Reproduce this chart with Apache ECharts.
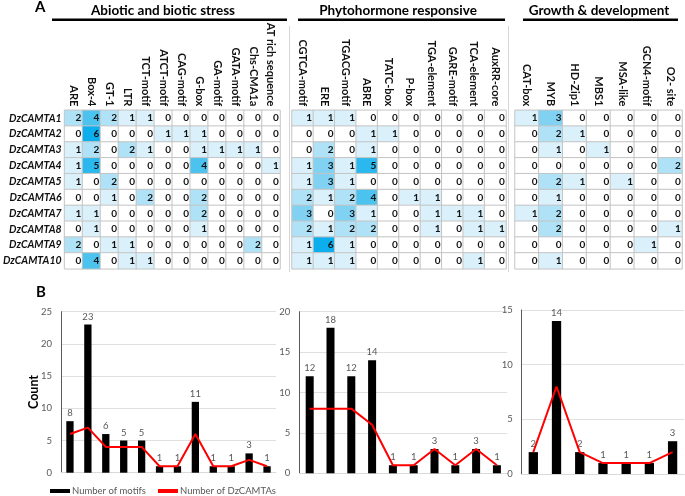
<!DOCTYPE html>
<html>
<head>
<meta charset="utf-8">
<script src="https://cdn.jsdelivr.net/npm/echarts@6/dist/echarts.min.js"></script>
<style>html,body{margin:0;padding:0;background:#fff}#c{width:685px;height:496px}</style>
</head>
<body>
<div id="c"></div>
<script>
const genes = ['DzCAMTA1','DzCAMTA2','DzCAMTA3','DzCAMTA4','DzCAMTA5','DzCAMTA6','DzCAMTA7','DzCAMTA8','DzCAMTA9','DzCAMTA10'];

const abioticMotifs = ['ARE','Box-4','GT-1','LTR','TCT-motif','ATCT-motif','CAG-motif','G-box','GA-motif','GATA-motif','Chs-CMA1a','AT rich sequence'];
const abioticCounts = [
  [2,4,2,1,1,0,0,0,0,0,0,0],
  [0,6,0,0,0,1,1,1,0,0,0,0],
  [1,2,0,2,1,0,0,1,1,1,1,0],
  [1,5,0,0,0,0,0,4,0,0,0,1],
  [1,0,2,0,0,0,0,0,0,0,0,0],
  [0,0,1,0,2,0,0,2,0,0,0,0],
  [1,1,0,0,0,0,0,2,0,0,0,0],
  [0,1,0,0,0,0,0,1,0,0,0,0],
  [2,0,1,1,0,0,0,0,0,0,2,0],
  [0,4,0,1,1,0,0,0,0,0,0,0]
];

const phytoMotifs = ['CGTCA-motif','ERE','TGACG-motif','ABRE','TATC-box','P-box','TGA-element','GARE-motif','TCA-element','AuxRR-core'];
const phytoCounts = [
  [1,1,1,0,0,0,0,0,0,0],
  [0,0,0,1,1,0,0,0,0,0],
  [0,2,0,1,0,0,0,0,0,0],
  [1,3,1,5,0,0,0,0,0,0],
  [1,3,1,0,0,0,0,0,0,0],
  [2,1,2,4,0,1,1,0,0,0],
  [3,0,3,1,0,0,1,1,1,0],
  [2,1,2,2,0,0,1,0,1,1],
  [1,6,1,0,0,0,0,0,0,0],
  [1,1,1,0,0,0,0,0,1,0]
];

const growthMotifs = ['CAT-box','MYB','HD-Zip1','MBS1','MSA-like','GCN4-motif','O2- site'];
const growthCounts = [
  [1,3,0,0,0,0,0],
  [0,2,1,0,0,0,0],
  [0,1,0,1,0,0,0],
  [0,0,0,0,0,0,2],
  [0,2,1,0,1,0,0],
  [0,1,0,0,0,0,0],
  [1,2,0,0,0,0,0],
  [0,2,0,0,0,0,1],
  [0,0,0,0,0,1,0],
  [0,1,0,0,0,0,0]
];

const abioticMotifTotals = [8,23,6,5,5,1,1,11,1,1,3,1];
const abioticGeneTotals  = [6,7,4,4,4,1,1,6,1,1,2,1];
const phytoMotifTotals   = [12,18,12,14,1,1,3,1,3,1];
const phytoGeneTotals    = [8,8,8,6,1,1,3,1,3,1];
const growthMotifTotals  = [2,14,2,1,1,1,3];
const growthGeneTotals   = [2,8,2,1,1,1,2];

const FONT = 'Lato';
function toCells(m){const out=[];m.forEach((r,y)=>r.forEach((v,x)=>out.push([x,y,v])));return out;}

const heatGrids = [
  {left:56, top:110.3, width:224, height:158.5},
  {left:292, top:110.3, width:214, height:158.5},
  {left:515, top:110.3, width:167, height:158.5}
];
const barGrids = [
  {left:61, top:311.7, width:215, height:161},
  {left:299.3, top:311.7, width:208, height:161.6},
  {left:521.7, top:310, width:162.5, height:164}
];
const motifSets = [abioticMotifs, phytoMotifs, growthMotifs];
const countSets = [abioticCounts, phytoCounts, growthCounts];
const motifTotals = [abioticMotifTotals, phytoMotifTotals, growthMotifTotals];
const geneTotals = [abioticGeneTotals, phytoGeneTotals, growthGeneTotals];
const yMax = [25,20,15];
const barW = [7.3,8,9.3];

const xAxes=[], yAxes=[], series=[];
heatGrids.forEach((g,i)=>{
  xAxes.push({type:'category', gridIndex:i, position:'top', data:motifSets[i],
    axisLine:{show:false}, axisTick:{show:false}, splitLine:{show:false},
    axisLabel:{rotate:90, interval:0, margin:4, fontFamily:FONT, fontSize:11, fontWeight:'bold', color:'#111'}});
  yAxes.push({type:'category', gridIndex:i, inverse:true, data:genes,
    axisLine:{show:false}, axisTick:{show:false}, splitLine:{show:false},
    axisLabel:{show:i===0, margin:3, fontFamily:FONT, fontSize:10.5, fontWeight:'bold', fontStyle:'italic', color:'#111'}});
  series.push({type:'heatmap', xAxisIndex:i, yAxisIndex:i, data:toCells(countSets[i]),
    itemStyle:{borderColor:'#c4c4c4', borderWidth:1},
    label:{show:true, position:'insideRight', distance:2, formatter:p=>p.value[2], fontFamily:FONT, fontSize:10, fontWeight:'bold', color:'#111'},
    emphasis:{disabled:true}});
});
barGrids.forEach((g,i)=>{
  const k = i+3;
  xAxes.push({type:'category', gridIndex:k, data:motifSets[i],
    axisLine:{show:true, lineStyle:{color:'#d9d9d9'}}, axisTick:{show:false}, axisLabel:{show:false}});
  yAxes.push({type:'value', gridIndex:k, min:0, max:yMax[i], interval:5,
    axisLine:{show:true, lineStyle:{color:'#595959'}}, axisTick:{show:false},
    splitLine:{lineStyle:{color:'#e0e0e0'}},
    axisLabel:{margin:9, showMaxLabel:true, showMinLabel:true, hideOverlap:false, fontFamily:FONT, fontSize:9.5, color:'#595959'}});
  series.push({type:'bar', name:'Number of motifs', xAxisIndex:k, yAxisIndex:k, data:motifTotals[i],
    barWidth:barW[i], itemStyle:{color:'#000'},
    label:{show:true, position:'top', distance:3, fontFamily:FONT, fontSize:9.5, color:'#595959'}});
  series.push({type:'line', name:'Number of DzCAMTAs', xAxisIndex:k, yAxisIndex:k, data:geneTotals[i],
    symbol:'none', lineStyle:{color:'#ff0000', width:2}, itemStyle:{color:'#ff0000'}});
});

const option = {
  animation:false,
  grid: heatGrids.concat(barGrids),
  xAxis: xAxes, yAxis: yAxes, series: series,
  visualMap:{type:'piecewise', show:false, seriesIndex:[0,1,2], dimension:2,
    pieces:[
      {value:0, color:'#ffffff'},
      {value:1, color:'#daf1fb'},
      {value:2, color:'#afe2f7'},
      {value:3, color:'#80d1f2'},
      {value:4, color:'#4cc2ef'},
      {value:5, color:'#2bb8ee'},
      {value:6, color:'#0daeee'}
    ]},
  legend:{left:50, top:486, padding:0, itemWidth:20, itemHeight:4, itemGap:12,
    textStyle:{fontFamily:FONT, fontSize:9.5, color:'#595959', padding:[0,0,0,-3]},
    data:[{name:'Number of motifs', icon:'rect'}, {name:'Number of DzCAMTAs', icon:'rect', itemStyle:{color:'#ff0000'}}]},
  graphic:[
    {type:'text', left:35, top:0, style:{text:'A', font:'bold 15px '+FONT, fill:'#000'}},
    {type:'text', left:36, top:285, style:{text:'B', font:'bold 15px '+FONT, fill:'#000'}},
    {type:'text', x:163, y:11, style:{text:'Abiotic and biotic stress', textAlign:'center', textVerticalAlign:'middle', font:'bold 13.5px '+FONT, fill:'#000'}},
    {type:'text', x:398, y:11, style:{text:'Phytohormone responsive', textAlign:'center', textVerticalAlign:'middle', font:'bold 13.5px '+FONT, fill:'#000'}},
    {type:'text', x:599, y:11, style:{text:'Growth & development', textAlign:'center', textVerticalAlign:'middle', font:'bold 13.5px '+FONT, fill:'#000'}},
    {type:'rect', shape:{x:52, y:18.5, width:235, height:2.5}, style:{fill:'#000'}},
    {type:'rect', shape:{x:298, y:18.5, width:207, height:2.5}, style:{fill:'#000'}},
    {type:'rect', shape:{x:523, y:18.5, width:155, height:2.5}, style:{fill:'#000'}},
    {type:'line', shape:{x1:289.5, y1:26, x2:289.5, y2:272}, style:{stroke:'#d6d6d6', lineWidth:1}},
    {type:'line', shape:{x1:508.5, y1:26, x2:508.5, y2:272}, style:{stroke:'#d6d6d6', lineWidth:1}},
    {type:'text', x:34, y:392, rotation:Math.PI/2, style:{text:'Count', textAlign:'center', textVerticalAlign:'middle', font:'bold 12.5px '+FONT, fill:'#000'}}
  ]
};
const chart = echarts.init(document.getElementById('c'), null, {renderer:'canvas'});
chart.setOption(option);
</script>
</body>
</html>
